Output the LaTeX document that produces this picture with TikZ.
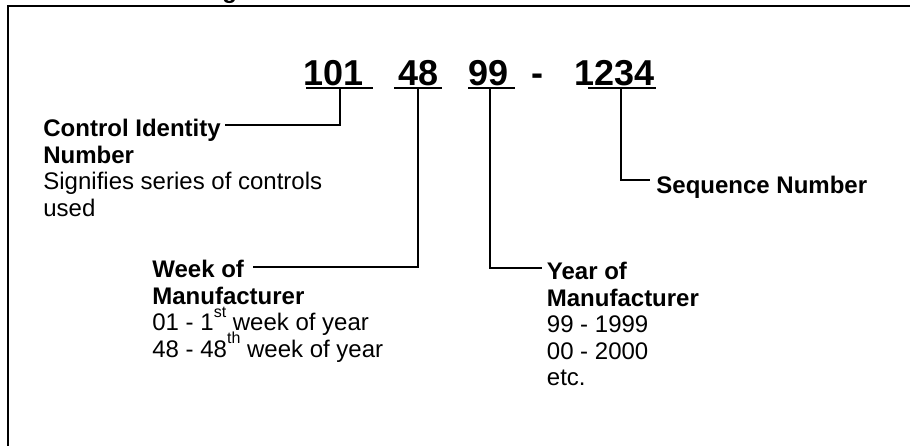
\documentclass[tikz,border=0pt]{standalone}
\usepackage{fontspec}
\setmainfont{Liberation Sans}
\usepackage{tikz}
\usetikzlibrary{positioning}
\newcommand{\ordsup}[1]{\raisebox{6.6pt}[0pt][0pt]{\fontsize{8}{8}\selectfont #1}}

\begin{document}
\begin{tikzpicture}[x=0.5pt,y=-0.5pt,every node/.style={inner sep=0pt,font=\fontsize{12}{13.25}\selectfont},
  lbl/.style={anchor=north west,align=left},
  num/.style={anchor=base west,font=\fontsize{18}{21}\selectfont\bfseries},
  lead/.style={line width=1pt},
  uline/.style={line width=1pt}]
\useasboundingbox (0,0) rectangle (910,445);
\clip (0,0) rectangle (910,445);
\node[anchor=base west,font=\fontsize{12}{14}\selectfont\bfseries] (title) at (2,-1.5) {Serial Number Designations};
\draw[line width=1.1pt] (8,6) rectangle (940,470);
\node[num] (n101) at (303,85) {101};
\node[num] (n48) at (398,85) {48};
\node[num] (n99) at (468.5,85) {99};
\node[num] (ndash) at (531.5,85) {-};
\node[num] (n1234) at (574.4,85) {1234};
\draw[uline] (306,88.3) -- (373,88.3);
\draw[uline] (394,88.3) -- (441.7,88.3);
\draw[uline] (468,88.3) -- (515,88.3);
\draw[uline] (588,88.3) -- (656,88.3);
\node[lbl] (cid) at (43,118.8) {\textbf{Control Identity}\\\textbf{Number}\\Signifies series of controls\\used};
\node[lbl] (wom) at (152,259.8) {\textbf{Week of}\\\textbf{Manufacturer}\\01 - 1\ordsup{st} week of year\\48 - 48\ordsup{th} week of year};
\node[lbl] (yom) at (546.5,261.8) {\textbf{Year of}\\\textbf{Manufacturer}\\99 - 1999\\00 - 2000\\etc.};
\node[anchor=base west,font=\fontsize{12}{13.25}\selectfont\bfseries] (seq) at (656,193.3) {Sequence Number};
\coordinate (c101) at (339.5,88.3);
\coordinate (c48) at (417.8,88.3);
\coordinate (c99) at (490,88.3);
\coordinate (c1234) at (620.7,88.3);
\coordinate (e101) at (225,124.5);
\coordinate (e48) at (253,267);
\coordinate (e99) at (541.7,268);
\coordinate (e1234) at (650,180);
\draw[lead] (c101) |- (e101);
\draw[lead] (c48) |- (e48);
\draw[lead] (c99) |- (e99);
\draw[lead] (c1234) |- (e1234);
\end{tikzpicture}
\end{document}
